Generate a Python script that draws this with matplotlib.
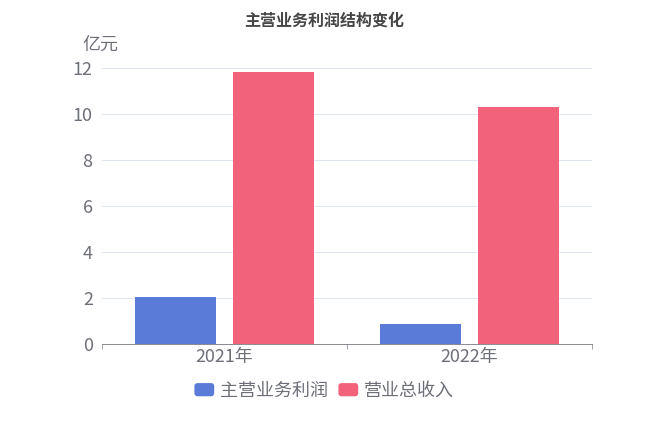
import numpy as np
import matplotlib.pyplot as plt
from matplotlib.patches import FancyBboxPatch
from matplotlib.legend_handler import HandlerPatch

plt.rcParams['font.family'] = ['Noto Sans CJK SC', 'DejaVu Sans']

# data (亿元)
years = ['2021年', '2022年']
series_names = ['主营业务利润', '营业总收入']
main_profit = [2.06, 0.86]
total_revenue = [11.84, 10.31]
colors = ['#5b7bd9', '#f2637b']

fig = plt.figure(figsize=(9, 6), dpi=72)
ax = fig.add_axes([0.157, 0.2037, 0.757, 0.639])

x = np.arange(len(years))
w = 0.33
off = 0.2
ax.bar(x - off, main_profit, w, color=colors[0], zorder=3)
ax.bar(x + off, total_revenue, w, color=colors[1], zorder=3)

ax.set_xlim(-0.5, len(years) - 0.5)
ax.set_ylim(0, 12)
ax.set_yticks(range(0, 13, 2))
ax.set_xticks(x)
ax.set_xticklabels(years)
ax.set_xticks(np.arange(-0.5, len(years), 1), minor=True)
ax.tick_params(axis='x', which='major', length=0, labelsize=18, colors='#6e7079', pad=4)
ax.tick_params(axis='x', which='minor', length=5, color='#6e7079')
ax.tick_params(axis='y', length=0, labelsize=18, colors='#6e7079', pad=9)
ax.grid(axis='y', color='#e0e6f1', linewidth=1, zorder=0)
for s in ['top', 'right', 'left']:
    ax.spines[s].set_visible(False)
ax.spines['bottom'].set_color('#6e7079')

fig.text(0.183, 0.895, '亿元', ha='right', va='center', fontsize=18, color='#6e7079')
fig.text(0.5, 0.953, '主营业务利润结构变化', ha='center', va='center',
         fontsize=16, fontweight='bold', color='#464646')


class RoundHandler(HandlerPatch):
    def create_artists(self, legend, orig_handle, xdescent, ydescent,
                       width, height, fontsize, trans):
        p = FancyBboxPatch((-xdescent, -ydescent), width, height,
                           boxstyle='round,pad=0,rounding_size=3',
                           facecolor=orig_handle.get_facecolor(),
                           edgecolor='none', transform=trans)
        return [p]


handles = [plt.Rectangle((0, 0), 1, 1, facecolor=c) for c in colors]
fig.legend(handles, series_names, loc='center', bbox_to_anchor=(0.5, 0.095),
           ncol=2, frameon=False, fontsize=18, labelcolor='#6e7079',
           handlelength=1.1, handleheight=0.75, handletextpad=0.3,
           columnspacing=0.6, handler_map={plt.Rectangle: RoundHandler()})

fig.savefig('out.png', dpi=72)
